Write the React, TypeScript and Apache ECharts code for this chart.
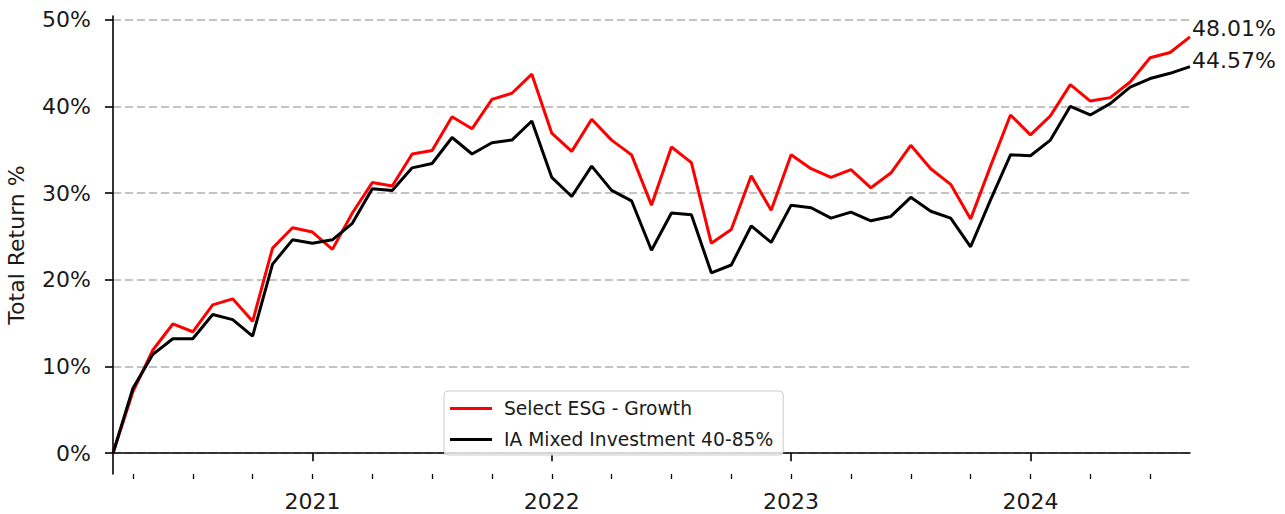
import React, { useEffect, useRef } from "react";
import * as echarts from "echarts";

const months: string[] = [
  "2020-03", "2020-04", "2020-05", "2020-06", "2020-07", "2020-08", "2020-09", "2020-10", "2020-11", "2020-12",
  "2021-01", "2021-02", "2021-03", "2021-04", "2021-05", "2021-06", "2021-07", "2021-08", "2021-09", "2021-10", "2021-11", "2021-12",
  "2022-01", "2022-02", "2022-03", "2022-04", "2022-05", "2022-06", "2022-07", "2022-08", "2022-09", "2022-10", "2022-11", "2022-12",
  "2023-01", "2023-02", "2023-03", "2023-04", "2023-05", "2023-06", "2023-07", "2023-08", "2023-09", "2023-10", "2023-11", "2023-12",
  "2024-01", "2024-02", "2024-03", "2024-04", "2024-05", "2024-06", "2024-07", "2024-08", "2024-09",
];

const esgGrowth: number[] = [
  0, 7.1, 11.9, 14.9, 14.0, 17.1, 17.8, 15.2, 23.65, 26.0,
  25.5, 23.5, 27.7, 31.2, 30.8, 34.5, 34.9, 38.8, 37.4, 40.8,
  41.5, 43.7, 36.9, 34.8, 38.5, 36.1, 34.4, 28.6, 35.3, 33.5,
  24.2, 25.8, 32.0, 28.0, 34.4, 32.8, 31.8, 32.7, 30.6, 32.3,
  35.5, 32.8, 31.0, 27.0, 33.1, 39.0, 36.7, 38.9, 42.5, 40.6,
  41.0, 42.8, 45.6, 46.2, 48.01,
];

const iaMixed: number[] = [
  0, 7.5, 11.4, 13.2, 13.2, 16.0, 15.4, 13.5, 21.8, 24.6,
  24.2, 24.6, 26.5, 30.5, 30.3, 32.9, 33.4, 36.4, 34.5, 35.8,
  36.1, 38.3, 31.8, 29.6, 33.1, 30.3, 29.1, 23.4, 27.7, 27.5,
  20.8, 21.7, 26.2, 24.3, 28.6, 28.3, 27.1, 27.8, 26.8, 27.3,
  29.5, 27.9, 27.1, 23.8, 29.2, 34.4, 34.3, 36.1, 40.0, 39.0,
  40.3, 42.2, 43.2, 43.8, 44.57,
];

const yTicks: number[] = [0, 10, 20, 30, 40, 50];
const seriesNames: string[] = ["Select ESG - Growth", "IA Mixed Investment 40-85%"];

const FONT = "DejaVu Sans";
const TXT = "#1a1a1a";

export default function App() {
  const ref = useRef<HTMLDivElement>(null);
  useEffect(() => {
    if (!ref.current) return;
    const chart = echarts.init(ref.current, undefined, { renderer: "svg" });
    const endLabel = (offY: number) => ({
      show: true,
      formatter: (p: any) => `${Number(p.value).toFixed(2)}%`,
      color: TXT,
      fontSize: 22,
      fontFamily: FONT,
      distance: 2,
      offset: [0, offY],
    });
    chart.setOption({
      animation: false,
      textStyle: { fontFamily: FONT },
      grid: {
        left: 113,
        right: 95,
        top: 16,
        bottom: 40,
        containLabel: false,
        outerBoundsMode: "none",
      },
      legend: {
        orient: "vertical",
        left: 444,
        top: 391,
        data: seriesNames,
        icon: "rect",
        itemWidth: 42,
        itemHeight: 3,
        itemGap: 12,
        padding: [8, 10, 6, 6],
        backgroundColor: "rgba(255,255,255,0.8)",
        borderColor: "#cccccc",
        borderWidth: 1,
        borderRadius: 4,
        textStyle: {
          fontSize: 18.7,
          fontFamily: FONT,
          color: TXT,
          lineHeight: 19,
          padding: [0, 0, 0, 7],
        },
      },
      xAxis: [
        {
          type: "category",
          data: months,
          boundaryGap: false,
          position: "bottom",
          axisLine: { show: true, lineStyle: { color: "#000", width: 1.6 } },
          axisTick: {
            show: true,
            length: 8,
            lineStyle: { color: "#000", width: 1.6 },
            interval: (i: number, v: string) => v.endsWith("-01"),
          },
          axisLabel: {
            show: true,
            interval: (i: number, v: string) => v.endsWith("-01"),
            formatter: (v: string) => v.slice(0, 4),
            fontSize: 22,
            fontFamily: FONT,
            color: TXT,
            margin: 16,
          },
          splitLine: { show: false },
        },
        {
          type: "category",
          data: months,
          boundaryGap: false,
          position: "bottom",
          axisLine: { show: false },
          axisTick: {
            show: true,
            length: 5,
            lineStyle: { color: "#000", width: 1.3 },
            interval: (i: number, v: string) => /-(01|04|07|10)$/.test(v),
          },
          axisLabel: { show: false },
          splitLine: { show: false },
        },
      ],
      yAxis: {
        type: "value",
        min: -2.4,
        max: 50.41,
        name: "Total Return %",
        nameLocation: "middle",
        nameRotate: 90,
        nameGap: 86,
        nameTextStyle: { fontSize: 22, fontFamily: FONT, color: TXT },
        axisLine: { show: true, lineStyle: { color: "#000", width: 1.6 } },
        axisTick: {
          show: true,
          length: 8,
          customValues: yTicks,
          lineStyle: { color: "#000", width: 1.6 },
        },
        axisLabel: {
          show: true,
          customValues: yTicks,
          formatter: (v: number) => `${v}%`,
          fontSize: 22,
          fontFamily: FONT,
          color: TXT,
          margin: 22,
        },
        splitLine: {
          show: true,
          lineStyle: { color: "#b0b0b0", width: 1.5, type: [8, 4] },
        },
      },
      series: [
        {
          name: seriesNames[0],
          type: "line",
          data: esgGrowth,
          showSymbol: false,
          symbol: "none",
          lineStyle: { color: "#ff0000", width: 3 },
          itemStyle: { color: "#ff0000" },
          endLabel: endLabel(-8),
          z: 3,
        },
        {
          name: seriesNames[1],
          type: "line",
          data: iaMixed,
          showSymbol: false,
          symbol: "none",
          lineStyle: { color: "#000000", width: 3 },
          itemStyle: { color: "#000000" },
          endLabel: endLabel(-6),
          z: 4,
        },
      ],
    });
    return () => chart.dispose();
  }, []);
  return (
    <div
      ref={ref}
      style={{ position: "fixed", left: 0, top: 0, width: 1285, height: 514, background: "#fff" }}
    />
  );
}
